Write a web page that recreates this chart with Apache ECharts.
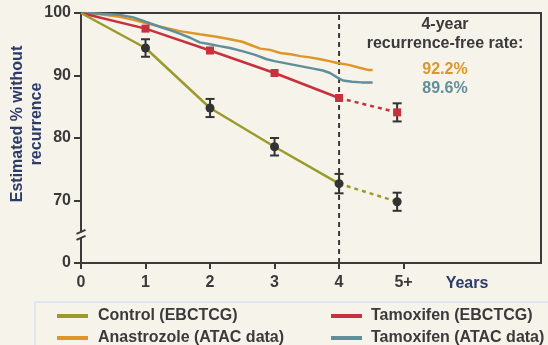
<!DOCTYPE html>
<html>
<head>
<meta charset="utf-8">
<script src="https://cdn.jsdelivr.net/npm/echarts@6/dist/echarts.min.js"></script>
<style>
html,body{margin:0;padding:0;background:#f5f3ea;}
#c{width:548px;height:345px;}
</style>
</head>
<body>
<div id="c"></div>
<script>
// ---- data ----
const tickYears = [0, 1, 2, 3, 4, 5];
const tickLabels = ['0', '1', '2', '3', '4', '5+'];
const yTickValues = [60, 70, 80, 90, 100];
const yTickLabels = ['0', '70', '80', '90', '100'];

const pointYears = [0, 1, 2, 3, 4];
const extYears = [4, 4.9];

const controlVals = [100, 94.4, 84.8, 78.6, 72.7];
const controlErr = [0, 1.4, 1.45, 1.4, 1.55];
const controlExt = [72.7, 69.8];
const controlExtErr = 1.45;

const tamoxVals = [100, 97.5, 94.0, 90.4, 86.4];
const tamoxExt = [86.4, 84.1];
const tamoxExtErr = 1.45;

const anaX = [0, 0.3, 0.6, 0.81, 1.0, 1.2, 1.53, 1.84, 2.1, 2.31, 2.5, 2.65, 2.78, 2.93, 3.09, 3.25, 3.4, 3.55, 3.71, 3.85, 3.97, 4.15, 4.33, 4.45, 4.52];
const anaY = [100, 99.8, 99.4, 98.9, 98.4, 97.9, 97.1, 96.6, 96.2, 95.8, 95.4, 94.8, 94.3, 94.1, 93.6, 93.4, 93.1, 92.9, 92.6, 92.3, 92.0, 91.7, 91.2, 90.9, 90.9];

const tamAtacX = [0, 0.3, 0.6, 0.81, 1.0, 1.22, 1.4, 1.53, 1.7, 1.84, 2.0, 2.15, 2.31, 2.5, 2.7, 2.88, 3.0, 3.2, 3.4, 3.6, 3.75, 3.86, 3.97, 4.06, 4.2, 4.35, 4.52];
const tamAtacY = [100, 99.9, 99.7, 99.3, 98.6, 97.8, 97.2, 96.7, 96.0, 95.3, 95.0, 94.7, 94.4, 93.9, 93.3, 92.6, 92.3, 91.9, 91.5, 91.1, 90.8, 90.4, 89.7, 89.2, 89.0, 88.9, 88.9];

const cutoffYear = 4;
const rateTitle = '4-year\nrecurrence-free rate:';
const rateAna = '92.2%';
const rateTam = '89.6%';

// ---- styles ----
const FONT = '"Liberation Sans", Arial, sans-serif';
const C_OLIVE = '#9b9b2c';
const C_ORANGE = '#de9628';
const C_RED = '#c6313d';
const C_TEAL = '#5f8f9a';
const C_DARK = '#3a3a3a';
const C_NAVY = '#2c3b68';

const zip = (xs, ys) => xs.map((x, i) => [x, ys[i]]);

const ctrlMain = zip(pointYears, controlVals);
const ctrlExt = zip(extYears, controlExt);
const tamMain = zip(pointYears, tamoxVals);
const tamExt = zip(extYears, tamoxExt);

const ctrlMarkers = ctrlMain.slice(1).concat([ctrlExt[1]]);
const tamMarkers = tamMain.slice(1).concat([tamExt[1]]);

const errData = [];
for (let i = 1; i < pointYears.length; i++) {
  errData.push([pointYears[i], controlVals[i] - controlErr[i], controlVals[i] + controlErr[i]]);
}
errData.push([extYears[1], controlExt[1] - controlExtErr, controlExt[1] + controlExtErr]);
errData.push([extYears[1], tamoxExt[1] - tamoxExtErr, tamoxExt[1] + tamoxExtErr]);

const chart = echarts.init(document.getElementById('c'), null, {renderer: 'canvas'});

const legendText = {color: C_DARK, fontSize: 16, fontWeight: 'bold', fontFamily: FONT, lineHeight: 18};

const option = {
  backgroundColor: '#f5f3ea',
  animation: false,
  textStyle: {fontFamily: FONT},
  grid: {
    left: 81, top: 13, right: 7, bottom: 82,
    show: true, borderColor: C_DARK, borderWidth: 2, backgroundColor: 'transparent'
  },
  xAxis: {
    type: 'value', min: 0, max: 7.13,
    axisLine: {lineStyle: {color: C_DARK, width: 2}},
    axisTick: {show: true, length: 6, customValues: tickYears, lineStyle: {color: C_DARK, width: 2}},
    axisLabel: {
      customValues: tickYears, margin: 12,
      formatter: v => tickLabels[tickYears.indexOf(Math.round(v))] || '',
      color: C_DARK, fontSize: 16, fontWeight: 'bold', fontFamily: FONT
    },
    splitLine: {show: false}
  },
  yAxis: {
    type: 'value', min: 60, max: 100, interval: 10,
    axisLine: {show: true, lineStyle: {color: C_DARK, width: 2}},
    axisTick: {show: true, length: 7, lineStyle: {color: C_DARK, width: 2}},
    axisLabel: {
      margin: 10,
      formatter: v => yTickLabels[yTickValues.indexOf(v)],
      color: C_DARK, fontSize: 16, fontWeight: 'bold', fontFamily: FONT
    },
    splitLine: {show: false}
  },
  legend: [
    {
      left: 57, top: 307, width: 260, height: 80, orient: 'vertical', padding: 0, itemGap: 4,
      icon: 'rect', itemWidth: 31, itemHeight: 4,
      data: ['Control (EBCTCG)', 'Anastrozole (ATAC data)'],
      textStyle: Object.assign({padding: [0, 0, 0, 5]}, legendText)
    },
    {
      left: 331, top: 307, width: 220, height: 80, orient: 'vertical', padding: 0, itemGap: 4,
      icon: 'rect', itemWidth: 31, itemHeight: 4,
      data: ['Tamoxifen (EBCTCG)', 'Tamoxifen (ATAC data)'],
      textStyle: Object.assign({padding: [0, 0, 0, 4]}, legendText)
    }
  ],
  series: [
    {
      name: 'cutoff', type: 'line', data: [[cutoffYear, 60], [cutoffYear, 100]],
      symbol: 'none', silent: true, z: 1,
      lineStyle: {color: C_DARK, width: 2, type: [5, 4]}
    },
    {
      name: 'Anastrozole (ATAC data)', type: 'line', data: zip(anaX, anaY),
      symbol: 'none', z: 2, color: C_ORANGE,
      lineStyle: {color: C_ORANGE, width: 2.5}, itemStyle: {color: C_ORANGE}
    },
    {
      name: 'Tamoxifen (ATAC data)', type: 'line', data: zip(tamAtacX, tamAtacY),
      symbol: 'none', z: 3, color: C_TEAL,
      lineStyle: {color: C_TEAL, width: 2.5}, itemStyle: {color: C_TEAL}
    },
    {
      name: 'Tamoxifen (EBCTCG)', type: 'line', data: tamMain,
      symbol: 'none', z: 4, color: C_RED,
      lineStyle: {color: C_RED, width: 2.5}, itemStyle: {color: C_RED}
    },
    {
      name: 'tamExt', type: 'line', data: tamExt,
      symbol: 'none', z: 4,
      lineStyle: {color: C_RED, width: 2.5, type: [4, 4]}
    },
    {
      name: 'Control (EBCTCG)', type: 'line', data: ctrlMain,
      symbol: 'none', z: 5, color: C_OLIVE,
      lineStyle: {color: C_OLIVE, width: 2.5}, itemStyle: {color: C_OLIVE}
    },
    {
      name: 'ctrlExt', type: 'line', data: ctrlExt,
      symbol: 'none', z: 5,
      lineStyle: {color: C_OLIVE, width: 2.5, type: [4, 4]}
    },
    {
      name: 'errors', type: 'custom', z: 6, data: errData,
      renderItem: function (params, api) {
        const x = api.value(0);
        const top = api.coord([x, api.value(2)]);
        const bot = api.coord([x, api.value(1)]);
        const w = 4.5;
        const st = {stroke: '#333333', lineWidth: 2};
        return {
          type: 'group',
          children: [
            {type: 'line', shape: {x1: top[0], y1: top[1], x2: bot[0], y2: bot[1]}, style: st},
            {type: 'line', shape: {x1: top[0] - w, y1: top[1], x2: top[0] + w, y2: top[1]}, style: st},
            {type: 'line', shape: {x1: bot[0] - w, y1: bot[1], x2: bot[0] + w, y2: bot[1]}, style: st}
          ]
        };
      }
    },
    {
      name: 'tamMarkers', type: 'scatter', data: tamMarkers, z: 7,
      symbol: 'rect', symbolSize: 8, itemStyle: {color: C_RED, opacity: 1}
    },
    {
      name: 'ctrlMarkers', type: 'scatter', data: ctrlMarkers, z: 7,
      symbol: 'circle', symbolSize: 9, itemStyle: {color: '#333333', opacity: 1}
    }
  ]
};

chart.setOption(option);

// graphics: axis break, texts, legend frame
const bp = chart.convertToPixel({gridIndex: 0}, [0, 64.5]);
const bx = bp[0], by = bp[1];
chart.setOption({
  graphic: [
    {type: 'rect', shape: {x: bx - 4, y: by - 2.5, width: 8, height: 5}, style: {fill: '#f5f3ea'}, z: 100},
    {type: 'line', shape: {x1: bx - 4.5, y1: by - 1, x2: bx + 4.5, y2: by - 5}, style: {stroke: C_DARK, lineWidth: 2}, z: 101},
    {type: 'line', shape: {x1: bx - 4.5, y1: by + 5, x2: bx + 4.5, y2: by + 1}, style: {stroke: C_DARK, lineWidth: 2}, z: 101},
    {type: 'text', x: 27, y: 124, rotation: Math.PI / 2,
      style: {text: 'Estimated % without\nrecurrence', fill: C_NAVY, font: 'bold 16px ' + FONT, align: 'center', verticalAlign: 'middle', lineHeight: 19}, z: 100},
    {type: 'text', x: 445, y: 34,
      style: {text: rateTitle, fill: C_DARK, font: 'bold 16px ' + FONT, align: 'center', verticalAlign: 'middle', lineHeight: 19}, z: 100},
    {type: 'text', x: 445, y: 70,
      style: {text: rateAna, fill: C_ORANGE, font: 'bold 16px ' + FONT, align: 'center', verticalAlign: 'middle'}, z: 100},
    {type: 'text', x: 445, y: 89,
      style: {text: rateTam, fill: C_TEAL, font: 'bold 16px ' + FONT, align: 'center', verticalAlign: 'middle'}, z: 100},
    {type: 'text', x: 467, y: 284,
      style: {text: 'Years', fill: C_NAVY, font: 'bold 16px ' + FONT, align: 'center', verticalAlign: 'middle'}, z: 100},
    {type: 'rect', shape: {x: 35, y: 302, width: 530, height: 60}, style: {fill: 'none', stroke: '#dde6f1', lineWidth: 2}, z: 0}
  ]
});
</script>
</body>
</html>
